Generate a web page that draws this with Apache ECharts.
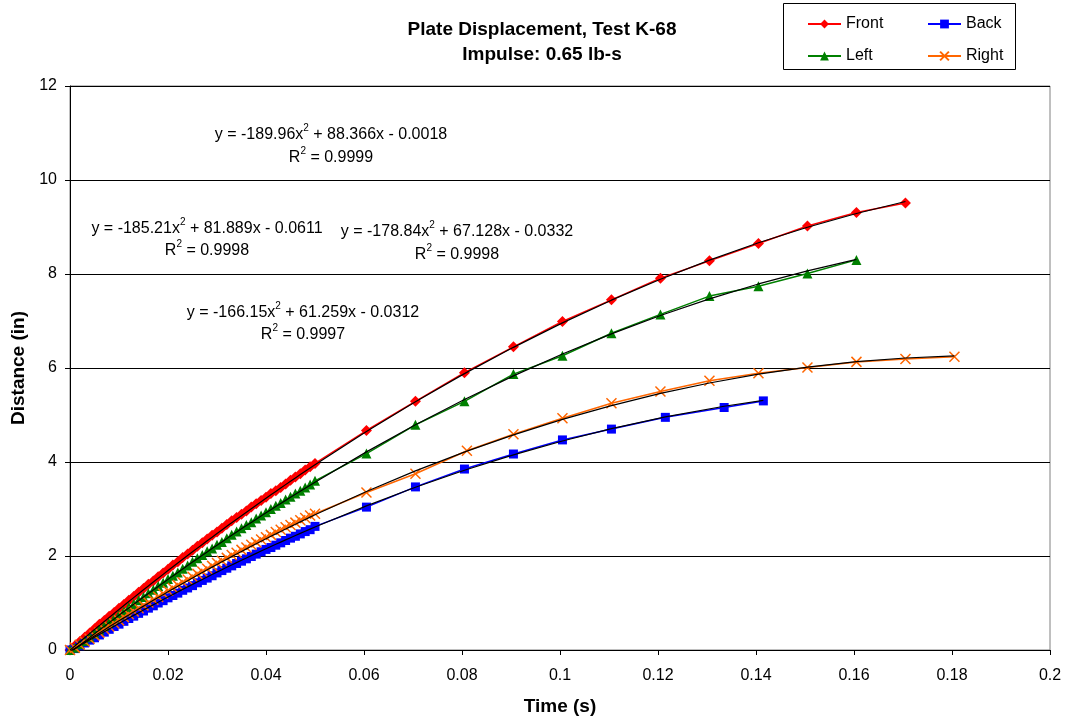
<!DOCTYPE html>
<html>
<head>
<meta charset="utf-8">
<script src="https://cdn.jsdelivr.net/npm/echarts@6/dist/echarts.min.js"></script>
<style>
html,body{margin:0;padding:0;background:#fff;}
#chart{width:1068px;height:721px;}
</style>
</head>
<body>
<div id="chart"></div>
<script>
// ---------- DATA ----------
const timeDense = [0,0.001,0.002,0.003,0.004,0.005,0.006,0.007,0.008,0.009,
  0.010,0.011,0.012,0.013,0.014,0.015,0.016,0.017,0.018,0.019,
  0.020,0.021,0.022,0.023,0.024,0.025,0.026,0.027,0.028,0.029,
  0.030,0.031,0.032,0.033,0.034,0.035,0.036,0.037,0.038,0.039,
  0.040,0.041,0.042,0.043,0.044,0.045,0.046,0.047,0.048,0.049,0.050];

const frontDense = [0,0.09,0.18,0.27,0.36,0.45,0.55,0.63,0.72,0.80,
  0.89,0.97,1.06,1.14,1.23,1.31,1.40,1.47,1.56,1.64,
  1.72,1.81,1.88,1.97,2.04,2.12,2.21,2.28,2.36,2.44,
  2.51,2.59,2.67,2.75,2.82,2.89,2.96,3.04,3.11,3.18,
  3.25,3.33,3.39,3.46,3.53,3.61,3.68,3.75,3.83,3.90,3.97];
const frontTimeSparse = [0.0605,0.0705,0.0805,0.0905,0.1005,0.1105,0.1205,0.1305,0.1405,0.1505,0.1605,0.1705];
const frontSparse = [4.67,5.29,5.90,6.45,6.99,7.45,7.91,8.28,8.65,9.02,9.31,9.51];

const leftDense = [0,0.05,0.12,0.19,0.27,0.35,0.43,0.51,0.59,0.67,
  0.75,0.82,0.91,0.98,1.06,1.13,1.21,1.28,1.36,1.43,
  1.51,1.58,1.65,1.73,1.80,1.88,1.95,2.02,2.10,2.16,
  2.24,2.30,2.38,2.45,2.52,2.59,2.66,2.72,2.80,2.86,
  2.93,3.00,3.07,3.13,3.20,3.26,3.33,3.39,3.46,3.52,3.60];
const leftTimeSparse = [0.0605,0.0705,0.0805,0.0905,0.1005,0.1105,0.1205,0.1305,0.1405,0.1505,0.1605];
const leftSparse = [4.18,4.79,5.29,5.87,6.26,6.74,7.14,7.53,7.74,8.01,8.30];

const rightDense = [0,0.05,0.11,0.18,0.24,0.31,0.37,0.44,0.50,0.57,
  0.63,0.70,0.76,0.82,0.89,0.95,1.01,1.07,1.13,1.20,
  1.26,1.32,1.38,1.44,1.50,1.56,1.62,1.67,1.73,1.79,
  1.85,1.90,1.96,2.02,2.07,2.13,2.18,2.24,2.29,2.35,
  2.40,2.45,2.51,2.56,2.61,2.66,2.71,2.76,2.81,2.86,2.90];
const rightTimeSparse = [0.0605,0.0705,0.0810,0.0905,0.1005,0.1105,0.1205,0.1305,0.1405,0.1505,0.1605,0.1705,0.1805];
const rightSparse = [3.35,3.75,4.24,4.59,4.93,5.25,5.50,5.73,5.89,6.01,6.13,6.19,6.24];

const backDense = [0,0.03,0.09,0.15,0.21,0.26,0.32,0.38,0.44,0.50,
  0.55,0.61,0.67,0.72,0.78,0.83,0.89,0.94,1.00,1.05,
  1.11,1.16,1.21,1.27,1.32,1.37,1.43,1.48,1.53,1.58,
  1.64,1.69,1.74,1.79,1.84,1.89,1.94,1.99,2.04,2.09,
  2.14,2.18,2.23,2.28,2.33,2.38,2.42,2.47,2.52,2.56,2.63];
const backTimeSparse = [0.0605,0.0705,0.0805,0.0905,0.1005,0.1105,0.1215,0.1335,0.1415];
const backSparse = [3.04,3.47,3.85,4.17,4.47,4.70,4.95,5.16,5.30];

// Trendline coefficients (a, b, c for y = a x^2 + b x + c) as printed on the chart
const frontFit = [-189.96, 88.366, -0.0018];
const leftFit  = [-185.21, 81.889, -0.0611];
const rightFit = [-178.84, 67.128, -0.0332];
const backFit  = [-166.15, 61.259, -0.0312];

// ---------- BUILD ----------
function pairs(t, v){ return t.map((x,i)=>[x, v[i]]); }
function fitLine(times, c){ return times.map(x=>[x, c[0]*x*x + c[1]*x + c[2]]); }

const frontT = timeDense.concat(frontTimeSparse), frontV = frontDense.concat(frontSparse);
const leftT = timeDense.concat(leftTimeSparse), leftV = leftDense.concat(leftSparse);
const rightT = timeDense.concat(rightTimeSparse), rightV = rightDense.concat(rightSparse);
const backT = timeDense.concat(backTimeSparse), backV = backDense.concat(backSparse);

const FONT = '"Liberation Sans", Arial, sans-serif';
const RED = '#FF0000', BLUE = '#0000FF', GREEN = '#008000', ORANGE = '#FF6600';
const XPATH = 'path://M0,0L10,10M10,0L0,10';

function dataSeries(name, t, v, color, symbol, size, extraItem){
  return {
    name, type:'line', data: pairs(t, v),
    symbol, symbolSize: size, showAllSymbol: true,
    lineStyle:{color, width:1.5},
    itemStyle: Object.assign({color, borderColor: color, borderWidth: 0}, extraItem || {}),
    z: 2, animation:false,
    emphasis:{disabled:true}
  };
}
function trendSeries(name, t, c){
  return {
    name, type:'line', data: fitLine(t, c), symbol:'none', smooth:false,
    lineStyle:{color:'#000000', width:1.2}, itemStyle:{color:'#000'},
    z: 3, silent:true, animation:false, emphasis:{disabled:true}
  };
}

function eqText(x, y, parts){
  // parts: [before, after] around a superscript "2"
  return {
    type:'text', x, y, z: 10,
    style:{
      text: '{n|' + parts[0] + '}{s|2}{n|' + parts[1] + '}',
      fontFamily:FONT, fill:'#000',
      align:'center', verticalAlign:'middle',
      rich:{
        n:{fontSize:16, fontFamily:FONT, fill:'#000', lineHeight:20, verticalAlign:'bottom'},
        s:{fontSize:10, fontFamily:FONT, fill:'#000', lineHeight:10, verticalAlign:'top'}
      }
    }
  };
}

function legendItem(name, left, top){
  return {
    data:[name], left, top, itemWidth:33, itemHeight:11, itemGap:0,
    textStyle:{fontSize:16, fontFamily:FONT, color:'#000'},
    selectedMode:false
  };
}

const chart = echarts.init(document.getElementById('chart'), null, {renderer:'canvas'});
chart.setOption({
  backgroundColor:'#fff',
  animation:false,
  title:{
    text:'Plate Displacement, Test K-68\nImpulse: 0.65 lb-s',
    left:537, top:12, textAlign:'center',
    textStyle:{fontSize:19, fontWeight:'bold', fontFamily:FONT, color:'#000', lineHeight:25}
  },
  legend:[
    legendItem('Front', 802, 11),
    legendItem('Back', 922, 11),
    legendItem('Left', 802, 43),
    legendItem('Right', 922, 43)
  ],
  grid:{left:70, right:18, top:86, bottom:71, show:true, borderColor:'#808080', borderWidth:1, backgroundColor:'#fff'},
  xAxis:{
    type:'value', min:0, max:0.2, interval:0.02,
    name:'Time (s)', nameLocation:'middle', nameGap:47,
    nameTextStyle:{fontSize:19, fontWeight:'bold', fontFamily:FONT, color:'#000'},
    axisLine:{show:true, onZero:false, lineStyle:{color:'#000', width:1}},
    axisTick:{show:true, inside:false, length:5, lineStyle:{color:'#000'}},
    axisLabel:{fontSize:16, fontFamily:FONT, color:'#000', margin:18,
      formatter:v=>String(+v.toFixed(2))},
    splitLine:{show:false}
  },
  yAxis:{
    type:'value', min:0, max:12, interval:2,
    name:'Distance (in)', nameLocation:'middle', nameGap:42, nameRotate:90,
    nameTextStyle:{fontSize:19, fontWeight:'bold', fontFamily:FONT, color:'#000'},
    axisLine:{show:true, onZero:false, lineStyle:{color:'#000', width:1}},
    axisTick:{show:true, inside:false, length:5, lineStyle:{color:'#000'}},
    axisLabel:{fontSize:16, fontFamily:FONT, color:'#000', margin:13},
    splitLine:{show:true, lineStyle:{color:'#000', width:1}}
  },
  series:[
    dataSeries('Front', frontT, frontV, RED, 'diamond', 11),
    dataSeries('Back', backT, backV, BLUE, 'rect', 9),
    dataSeries('Left', leftT, leftV, GREEN, 'triangle', 10),
    dataSeries('Right', rightT, rightV, ORANGE, XPATH, 10, {color:'rgba(0,0,0,0)', borderColor:ORANGE, borderWidth:1.5}),
    trendSeries('Front fit', frontT, frontFit),
    trendSeries('Back fit', backT, backFit),
    trendSeries('Left fit', leftT, leftFit),
    trendSeries('Right fit', rightT, rightFit)
  ],
  graphic:[
    {type:'rect', shape:{x:783.5, y:3.5, width:232, height:66}, style:{fill:'none', stroke:'#000', lineWidth:1}, z:1},
    eqText(331, 133, ['y = -189.96x', ' + 88.366x - 0.0018']),
    eqText(331, 156, ['R', ' = 0.9999']),
    eqText(207, 227, ['y = -185.21x', ' + 81.889x - 0.0611']),
    eqText(207, 249, ['R', ' = 0.9998']),
    eqText(457, 230, ['y = -178.84x', ' + 67.128x - 0.0332']),
    eqText(457, 253, ['R', ' = 0.9998']),
    eqText(303, 311, ['y = -166.15x', ' + 61.259x - 0.0312']),
    eqText(303, 333, ['R', ' = 0.9997'])
  ]
});
</script>
</body>
</html>
